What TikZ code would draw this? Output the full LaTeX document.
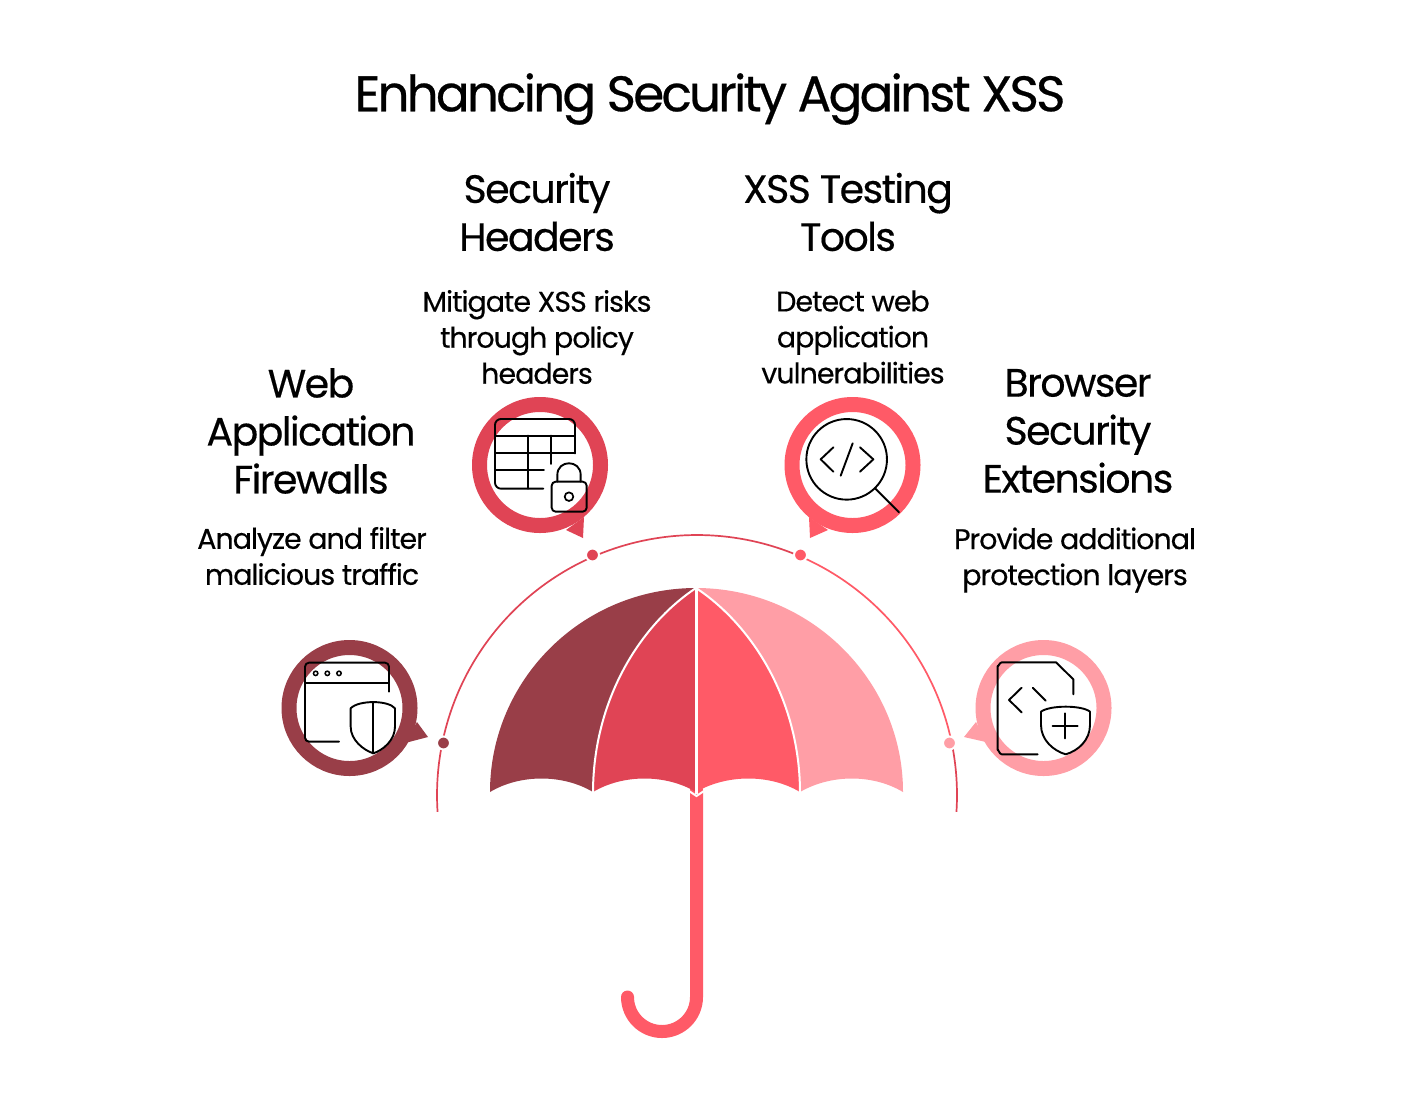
\documentclass[tikz,border=0pt]{standalone}
\usepackage{fontspec}
\setmainfont{Poppins}[LetterSpace=-3.5,FakeBold=0.35]
\newfontfamily\titlefont{Poppins}[LetterSpace=-5.6,FakeBold=0.5]
\newfontfamily\headfont{Poppins}[LetterSpace=-4,FakeBold=0.4]
\begin{document}
\begin{tikzpicture}[x=1pt,y=-1pt,
  titletext/.style={font=\titlefont\fontsize{50}{58}\selectfont,inner sep=0pt,text=black},
  headtext/.style={font=\headfont\fontsize{39.5}{48}\selectfont,align=center,inner sep=0pt,text=black},
  bodytext/.style={font=\fontsize{28.5}{36}\selectfont,align=center,inner sep=0pt,text=black},
  iconline/.style={draw=black,line width=1.9pt,line cap=round,line join=round},
  rib/.style={draw=white,line width=2pt},
  ringshape/.style={circle,minimum size=121pt,inner sep=0pt,draw,line width=15pt,fill=white},
  dotmark/.style={circle,minimum size=13pt,inner sep=0pt,draw=white,line width=2pt},
  arcline/.style={line width=1.7pt}]
\definecolor{cdark}{HTML}{993E48}
\definecolor{cmid}{HTML}{E04455}
\definecolor{ccoral}{HTML}{FF5A67}
\definecolor{cpink}{HTML}{FF9EA6}
\useasboundingbox[fill=white] (0,0) rectangle (1420,1112);

\node[titletext] (title) at (710,99) {Enhancing Security Against XSS};
\node[headtext] (h1) at (537,212) {Security\\Headers};
\node[headtext] (h2) at (848,212) {XSS Testing\\Tools};
\node[headtext] (h3) at (311,431) {Web\\Application\\Firewalls};
\node[headtext] (h4) at (1078,431) {Browser\\Security\\Extensions};
\node[bodytext] (b1) at (537,337) {Mitigate XSS risks\\through policy\\headers};
\node[bodytext] (b2) at (853,337) {Detect web\\application\\vulnerabilities};
\node[bodytext] (b3) at (312,556) {Analyze and filter\\malicious traffic};
\node[bodytext] (b4) at (1075,560) {Provide additional\\protection layers};

% outer arc
\coordinate (arcc) at (697,795);
\draw[arcline,draw=cmid] (arcc)++(176.3:260) arc[start angle=176.3,end angle=191.6,radius=260];
\draw[arcline,draw=cmid] (arcc)++(191.6:260) arc[start angle=191.6,end angle=246.4,radius=260];
\draw[arcline,draw=cmid] (arcc)++(246.4:260) arc[start angle=246.4,end angle=293.6,radius=260];
\draw[arcline,draw=ccoral] (arcc)++(293.6:260) arc[start angle=293.6,end angle=348.4,radius=260];
\draw[arcline,draw=cmid] (arcc)++(348.4:260) arc[start angle=348.4,end angle=363.7,radius=260];
\node[dotmark,fill=cdark] (d1) at (443.5,743) {};
\node[dotmark,fill=cmid] (d2) at (592.5,555) {};
\node[dotmark,fill=ccoral] (d3) at (800.5,555) {};
\node[dotmark,fill=cpink] (d4) at (949.5,743) {};

% handle
\draw[draw=ccoral,line width=13pt,line cap=round] (696.5,790) -- (696.5,997) arc[start angle=0,end angle=180,radius=34.5];

% canopy
\fill[cpink] (696,588) .. controls (810,588) and (903,680) .. (903,792)
  .. controls (873,774) and (831,774) .. (800,792)
  .. controls (800,700) and (752,625) .. (696,588) -- cycle;
\fill[ccoral] (696,588) .. controls (752,625) and (800,700) .. (800,792)
  .. controls (770,774) and (727,774) .. (696,792) -- cycle;
\fill[cmid] (696,588) .. controls (640,625) and (593,700) .. (593,792)
  .. controls (623,774) and (666,774) .. (696,792) -- cycle;
\fill[cdark] (696,588) .. controls (582,588) and (490,680) .. (490,792)
  .. controls (520,774) and (563,774) .. (593,792)
  .. controls (593,700) and (640,625) .. (696,588) -- cycle;
\draw[rib,line width=2.5pt] (696.5,588) -- (696.5,794);
\draw[rib] (696,588) .. controls (640,625) and (593,700) .. (593,793);
\draw[rib] (696,588) .. controls (752,625) and (800,700) .. (800,793);
\draw[rib] (689,791) -- (696.5,796) -- (704,791);

% bubbles
\fill[cdark] (417,722) -- (428,737) -- (405,743) -- cycle;
\node[ringshape,draw=cdark] (r1) at (349.5,708) {};
\fill[cmid] (584,517) -- (583,538) -- (566,530) -- cycle;
\node[ringshape,draw=cmid] (r2) at (540,465) {};
\fill[ccoral] (809,517) -- (810,538) -- (828,530) -- cycle;
\node[ringshape,draw=ccoral] (r3) at (852.5,465) {};
\fill[cpink] (976,722) -- (964,737) -- (986,742) -- cycle;
\node[ringshape,draw=cpink] (r4) at (1043.5,708) {};

% icon: window and shield
\begin{scope}[x=0.33333pt,y=-0.33333pt,shift={(260pt,-620pt)}]
\draw[iconline,rounded corners=4pt] (387,215) -- (387,128) -- (135,128) -- (135,365) -- (237,365);
\draw[iconline] (135,189) -- (387,189);
\foreach \dx in {167,202,237} \draw[draw=black,line width=1.5pt] (\dx,160) circle[radius=2.2pt];
\draw[iconline] (272,265) .. controls (295,240) and (385,240) .. (405,265) -- (405,320)
  .. controls (405,360) and (370,390) .. (340,400) .. controls (310,390) and (272,360) .. (272,320) -- cycle;
\draw[iconline] (340,248) -- (340,400);
\end{scope}

% icon: table and lock
\begin{scope}[x=0.33333pt,y=-0.33333pt,shift={(460pt,-390pt)}]
\draw[iconline,rounded corners=6pt] (345,190) -- (345,87) -- (105,87) -- (105,296) -- (250,296);
\draw[iconline] (105,137) -- (345,137);
\draw[iconline] (105,190) -- (345,190);
\draw[iconline] (105,241) -- (252,241);
\draw[iconline] (203,137) -- (203,296);
\draw[iconline] (272,137) -- (272,222);
\draw[iconline,rounded corners=4pt] (275,275) rectangle (380,365);
\draw[iconline] (292,275) -- (292,255) .. controls (292,208) and (362,208) .. (362,255) -- (362,275);
\draw[draw=black,line width=1.7pt] (327,320) circle[radius=4.3pt];
\end{scope}

% icon: magnifier and code
\begin{scope}[x=0.33333pt,y=-0.33333pt,shift={(770pt,-390pt)}]
\draw[iconline] (230,208) circle[radius=40.3pt];
\draw[iconline] (315,295) -- (387,367);
\draw[iconline] (190,172) -- (152,208) -- (190,245);
\draw[iconline] (248,160) -- (212,257);
\draw[iconline] (270,172) -- (310,208) -- (270,245);
\end{scope}

% icon: document and shield
\begin{scope}[x=0.33333pt,y=-0.33333pt,shift={(940pt,-630pt)}]
\draw[iconline] (400,193) -- (400,148) -- (348,97) -- (185,97) to[out=180,in=-90] (173,108) -- (173,360) to[out=90,in=180] (185,373) -- (293,373);
\draw[iconline] (245,173) -- (207,210) -- (245,247);
\draw[iconline] (278,173) -- (317,212);
\draw[iconline] (303,245) .. controls (330,225) and (425,225) .. (450,245) -- (450,285)
  .. controls (450,330) and (415,362) .. (377,373) .. controls (340,362) and (303,330) .. (303,285) -- cycle;
\draw[iconline] (376,250) -- (376,325);
\draw[iconline] (338,289) -- (413,289);
\end{scope}
\end{tikzpicture}
\end{document}
